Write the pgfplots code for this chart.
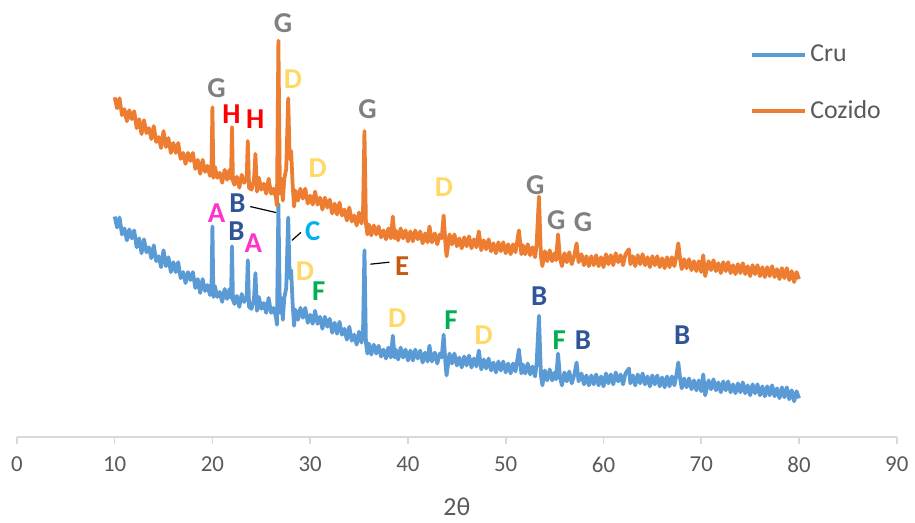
\documentclass[border=0pt]{standalone}
\usepackage{fontspec}
\setmainfont{Carlito}
\usepackage{pgfplots}
\pgfplotsset{compat=1.18}
\definecolor{cru}{RGB}{91,155,213}
\definecolor{coz}{RGB}{237,125,49}
\definecolor{axgray}{RGB}{217,217,217}
\definecolor{txtgray}{RGB}{89,89,89}
\definecolor{lG}{RGB}{128,128,128}
\definecolor{lH}{RGB}{255,0,0}
\definecolor{lD}{RGB}{255,217,102}
\definecolor{lA}{RGB}{255,51,204}
\definecolor{lB}{RGB}{47,85,151}
\definecolor{lC}{RGB}{0,176,240}
\definecolor{lE}{RGB}{197,90,17}
\definecolor{lF}{RGB}{0,176,80}
\tikzset{
  pk/.style={font=\fontsize{14.5}{14.5}\selectfont\bfseries, inner sep=0pt, anchor=center},
  lead/.style={black, line width=0.6pt}
}
\begin{document}
\begin{tikzpicture}
\begin{axis}[
  scale only axis, width=443pt, height=220pt,
  xmin=0, xmax=90, ymin=0, ymax=440,
  axis x line=bottom, hide y axis,
  axis line style={axgray, line width=0.8pt, -},
  xtick={0,10,...,90},
  tick align=outside, major tick length=3.5pt,
  tick style={axgray, line width=0.8pt},
  xticklabel style={font=\fontsize{11.5}{12}\selectfont, text=txtgray, yshift=-3pt},
  /pgf/number format/assume math mode=true,
  xlabel={2θ}, xlabel style={font=\fontsize{13}{13}\selectfont, text=txtgray, yshift=-6pt},
  clip=false,
  legend style={draw=none, fill=none, at={(axis cs:74.4,403)}, anchor=north west,
    font=\fontsize{13}{13}\selectfont, text=txtgray, row sep=14pt},
  legend cell align=left,
  legend image code/.code={\draw[#1, line width=1.6pt] (0pt,0pt) -- (26.5pt,0pt);},
  every axis plot/.append style={line width=1.9pt, line join=round},
]
\addplot[cru] coordinates {
(10,222)(10.25,211)(10.5,221)(10.75,204)(11,210)(11.25,198)(11.5,209)(11.75,200)(12,208)(12.25,191)(12.5,200)(12.75,185)(13,199)(13.25,186)(13.5,191)(13.75,180)(14,193)(14.25,177)(14.5,182)(14.75,171)(15,188)(15.25,172)(15.5,181)(15.75,166)(16,176)(16.25,166)(16.5,176)(16.75,160)(17,166)(17.25,155)(17.5,166)(17.75,158)(18,166)(18.25,150)(18.5,159)(18.75,145)(19,159)(19.25,147)(19.5,153)(19.75,143)(19.9,146)(20,212)(20.1,141)(20.25,152)(20.5,141)(20.75,146)(21,136)(21.25,149)(21.5,139)(21.75,149)(21.9,140)(22,192)(22.1,138)(22.25,134)(22.5,142)(22.75,131)(23,144)(23.25,136)(23.5,140)(23.62,178)(23.75,131)(24,129)(24.25,139)(24.4,165)(24.55,127)(24.75,141)(25,129)(25.25,135)(25.5,125)(25.75,140)(26,125)(26.25,130)(26.5,121)(26.6,113)(26.75,235)(26.9,125)(27.05,140)(27.2,118)(27.35,140)(27.55,150)(27.75,221)(27.9,160)(28.05,168)(28.2,135)(28.35,112)(28.5,128)(28.75,118)(29,130)(29.25,120)(29.5,130)(29.75,115)(30,123)(30.25,114)(30.5,127)(30.75,114)(31,121)(31.25,109)(31.5,121)(31.75,111)(32,119)(32.25,105)(32.5,115)(32.75,104)(33,116)(33.25,103)(33.5,109)(33.75,98)(34,111)(34.25,97)(34.5,103)(34.75,93)(35,106)(35.25,95)(35.4,104)(35.55,188)(35.7,95)(35.85,84)(36,94)(36.25,83)(36.5,93)(36.75,84)(37,92)(37.25,81)(37.5,88)(37.75,79)(38,90)(38.25,80)(38.45,102)(38.65,80)(38.75,88)(39,78)(39.25,90)(39.5,80)(39.75,88)(40,77)(40.25,87)(40.5,77)(40.75,88)(41,79)(41.25,87)(41.5,75)(41.75,85)(42,76)(42.2,92)(42.45,76)(42.75,85)(43,74)(43.25,84)(43.45,80)(43.65,103)(43.85,72)(43.95,62)(44.25,84)(44.5,74)(44.75,84)(45,72)(45.25,80)(45.5,70)(45.75,81)(46,72)(46.25,82)(46.5,70)(46.75,79)(47,71)(47.25,87)(47.5,68)(47.75,78)(48,69)(48.25,79)(48.5,67)(48.75,75)(49,65)(49.25,76)(49.5,67)(49.75,76)(50,65)(50.25,74)(50.5,64)(50.75,74)(51,66)(51.35,88)(51.6,64)(51.75,73)(52,64)(52.25,74)(52.5,63)(52.75,71)(53,61)(53.15,72)(53.4,122)(53.6,62)(53.75,52)(54,67)(54.25,57)(54.5,68)(54.75,57)(55,65)(55.15,58)(55.35,84)(55.55,60)(55.75,52)(56,65)(56.25,56)(56.5,66)(56.75,54)(57,62)(57.25,75)(57.45,56)(57.75,64)(58,53)(58.25,62)(58.5,52)(58.75,62)(59,53)(59.25,63)(59.5,52)(59.75,61)(60,51)(60.25,64)(60.5,54)(60.75,63)(61,53)(61.25,65)(61.5,56)(61.75,63)(62,53)(62.25,64)(62.6,69)(62.75,54)(63,62)(63.25,52)(63.5,63)(63.75,54)(64,64)(64.25,53)(64.5,61)(64.75,51)(65,62)(65.25,53)(65.5,62)(65.75,51)(66,60)(66.25,50)(66.5,61)(66.75,51)(67,61)(67.25,52)(67.45,62)(67.65,75)(67.85,58)(68,49)(68.25,59)(68.5,50)(68.75,59)(69,48)(69.25,57)(69.5,47)(69.75,57)(70,46)(70.2,63)(70.4,42)(70.75,57)(71,48)(71.25,58)(71.5,47)(71.75,55)(72,45)(72.25,56)(72.5,47)(72.75,56)(73,45)(73.25,53)(73.5,44)(73.75,54)(74,45)(74.25,55)(74.5,44)(74.75,52)(75,42)(75.25,53)(75.5,44)(75.75,53)(76,42)(76.25,51)(76.5,41)(76.75,51)(77,42)(77.25,52)(77.5,41)(77.75,49)(78,39)(78.25,50)(78.5,40)(78.75,50)(79,38)(79.25,47)(79.5,36)(79.75,46)(80,39)
};
\addlegendentry{Cru}
\addplot[coz] coordinates {
(10,342)(10.25,331)(10.5,341)(10.75,324)(11,330)(11.25,318)(11.5,329)(11.75,320)(12,328)(12.25,311)(12.5,320)(12.75,305)(13,319)(13.25,306)(13.5,311)(13.75,300)(14,313)(14.25,297)(14.5,302)(14.75,291)(15,308)(15.25,292)(15.5,301)(15.75,286)(16,296)(16.25,286)(16.5,296)(16.75,280)(17,286)(17.25,275)(17.5,286)(17.75,278)(18,286)(18.25,270)(18.5,279)(18.75,265)(19,279)(19.25,267)(19.5,273)(19.75,263)(19.9,266)(20,332)(20.1,261)(20.25,272)(20.5,261)(20.75,266)(21,256)(21.25,269)(21.5,259)(21.75,269)(21.9,260)(22,312)(22.1,258)(22.25,254)(22.5,262)(22.75,251)(23,264)(23.25,256)(23.5,260)(23.62,298)(23.75,251)(24,249)(24.25,259)(24.4,285)(24.55,247)(24.75,261)(25,249)(25.25,255)(25.5,245)(25.75,260)(26,245)(26.25,250)(26.5,241)(26.6,233)(26.75,399)(26.9,245)(27.05,260)(27.2,238)(27.35,260)(27.55,270)(27.75,341)(27.9,280)(28.05,288)(28.2,255)(28.35,232)(28.5,248)(28.75,238)(29,250)(29.25,240)(29.5,250)(29.75,235)(30,243)(30.25,234)(30.5,247)(30.75,234)(31,241)(31.25,229)(31.5,241)(31.75,231)(32,239)(32.25,225)(32.5,235)(32.75,224)(33,236)(33.25,223)(33.5,229)(33.75,218)(34,231)(34.25,217)(34.5,223)(34.75,213)(35,226)(35.25,215)(35.4,224)(35.55,308)(35.7,215)(35.85,204)(36,214)(36.25,203)(36.5,213)(36.75,204)(37,212)(37.25,201)(37.5,208)(37.75,199)(38,210)(38.25,200)(38.45,222)(38.65,200)(38.75,208)(39,198)(39.25,210)(39.5,200)(39.75,208)(40,197)(40.25,207)(40.5,197)(40.75,208)(41,199)(41.25,207)(41.5,195)(41.75,205)(42,196)(42.2,212)(42.45,196)(42.75,205)(43,194)(43.25,204)(43.45,200)(43.65,223)(43.85,192)(43.95,182)(44.25,204)(44.5,194)(44.75,204)(45,192)(45.25,200)(45.5,190)(45.75,201)(46,192)(46.25,202)(46.5,190)(46.75,199)(47,191)(47.25,207)(47.5,188)(47.75,198)(48,189)(48.25,199)(48.5,187)(48.75,195)(49,185)(49.25,196)(49.5,187)(49.75,196)(50,185)(50.25,194)(50.5,184)(50.75,194)(51,186)(51.35,208)(51.6,184)(51.75,193)(52,184)(52.25,194)(52.5,183)(52.75,191)(53,181)(53.15,192)(53.4,242)(53.6,182)(53.75,172)(54,187)(54.25,177)(54.5,188)(54.75,177)(55,185)(55.15,178)(55.35,204)(55.55,180)(55.75,172)(56,185)(56.25,176)(56.5,186)(56.75,174)(57,182)(57.25,195)(57.45,176)(57.75,184)(58,173)(58.25,182)(58.5,172)(58.75,182)(59,173)(59.25,183)(59.5,172)(59.75,181)(60,171)(60.25,184)(60.5,174)(60.75,183)(61,173)(61.25,185)(61.5,176)(61.75,183)(62,173)(62.25,184)(62.6,189)(62.75,174)(63,182)(63.25,172)(63.5,183)(63.75,174)(64,184)(64.25,173)(64.5,181)(64.75,171)(65,182)(65.25,173)(65.5,182)(65.75,171)(66,180)(66.25,170)(66.5,181)(66.75,171)(67,181)(67.25,172)(67.45,182)(67.65,195)(67.85,178)(68,169)(68.25,179)(68.5,170)(68.75,179)(69,168)(69.25,177)(69.5,167)(69.75,177)(70,166)(70.2,183)(70.4,162)(70.75,177)(71,168)(71.25,178)(71.5,167)(71.75,175)(72,165)(72.25,176)(72.5,167)(72.75,176)(73,165)(73.25,173)(73.5,164)(73.75,174)(74,165)(74.25,175)(74.5,164)(74.75,172)(75,162)(75.25,173)(75.5,164)(75.75,173)(76,162)(76.25,171)(76.5,161)(76.75,171)(77,162)(77.25,172)(77.5,161)(77.75,169)(78,159)(78.25,170)(78.5,160)(78.75,170)(79,158)(79.25,167)(79.5,156)(79.75,166)(80,159)
};
\addlegendentry{Cozido}
% phase labels, Cozido
\node[pk, text=lG] at (axis cs:20.42,351) {G};
\node[pk, text=lH] at (axis cs:21.94,325) {H};
\node[pk, text=lH] at (axis cs:24.38,320) {H};
\node[pk, text=lG] at (axis cs:27.23,417) {G};
\node[pk, text=lD] at (axis cs:28.24,360) {D};
\node[pk, text=lD] at (axis cs:30.78,271) {D};
\node[pk, text=lG] at (axis cs:35.86,330) {G};
\node[pk, text=lD] at (axis cs:43.68,252) {D};
\node[pk, text=lG] at (axis cs:53.03,254) {G};
\node[pk, text=lG] at (axis cs:55.16,218) {G};
\node[pk, text=lG] at (axis cs:57.90,216) {G};
% phase labels, Cru
\node[pk, text=lA] at (axis cs:20.42,225) {A};
\node[pk, text=lB] at (axis cs:22.55,235) {B};
\node[pk, text=lB] at (axis cs:22.45,207) {B};
\node[pk, text=lA] at (axis cs:24.18,195) {A};
\draw[lead] (axis cs:23.87,232) -- (axis cs:26.51,226);
\node[pk, text=lC] at (axis cs:30.27,207) {C};
\draw[lead] (axis cs:28.14,198) -- (axis cs:29.05,206);
\node[pk, text=lD] at (axis cs:29.46,167) {D};
\node[pk, text=lF] at (axis cs:30.88,147) {F};
\node[pk, text=lE] at (axis cs:39.41,172) {E};
\draw[lead] (axis cs:36.16,174) -- (axis cs:38.09,176);
\node[pk, text=lD] at (axis cs:38.91,120) {D};
\node[pk, text=lF] at (axis cs:44.39,118) {F};
\node[pk, text=lD] at (axis cs:47.74,103) {D};
\node[pk, text=lB] at (axis cs:53.43,142) {B};
\node[pk, text=lF] at (axis cs:55.47,97) {F};
\node[pk, text=lB] at (axis cs:57.90,97) {B};
\node[pk, text=lB] at (axis cs:68.06,103) {B};
\end{axis}
\path ([xshift=-8.5pt,yshift=-38.5pt]current axis.south west) rectangle ([xshift=6pt]current axis.north east);
\end{tikzpicture}
\end{document}
